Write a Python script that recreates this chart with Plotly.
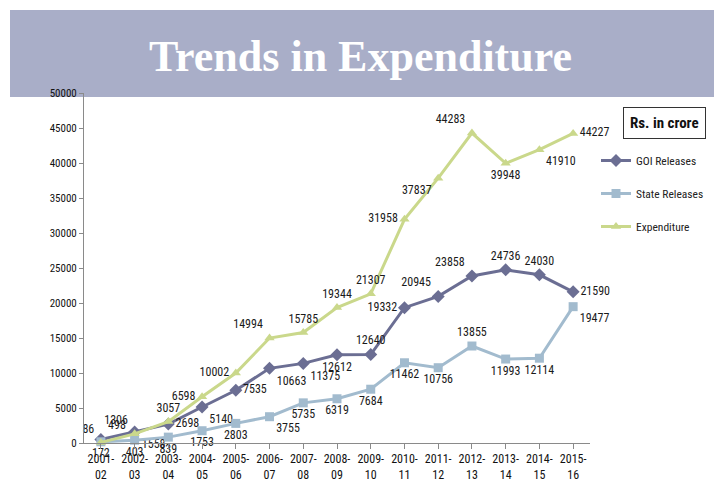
import plotly.graph_objects as go

categories = ["2001-<br>02", "2002-<br>03", "2003-<br>04", "2004-<br>05", "2005-<br>06",
              "2006-<br>07", "2007-<br>08", "2008-<br>09", "2009-<br>10", "2010-<br>11",
              "2011-<br>12", "2012-<br>13", "2013-<br>14", "2014-<br>15", "2015-<br>16"]
goi_releases = [498, 1558, 2698, 5140, 7535, 10663, 11375, 12612, 12640, 19332, 20945, 23858, 24736, 24030, 21590]
state_releases = [172, 403, 839, 1753, 2803, 3755, 5735, 6319, 7684, 11462, 10756, 13855, 11993, 12114, 19477]
expenditure = [86, 1306, 3057, 6598, 10002, 14994, 15785, 19344, 21307, 31958, 37837, 44283, 39948, 41910, 44227]
y_ticks = [0, 5000, 10000, 15000, 20000, 25000, 30000, 35000, 40000, 45000, 50000]

exp_pos = ["top left", "top left", "top center", "middle left", "middle left", "top left", "top center",
           "top center", "top center", "middle left", "bottom left", "top left", "bottom center",
           "bottom right", "middle right"]
goi_pos = ["top right", "bottom right", "middle right", "bottom right", "middle right", "bottom right",
           "bottom right", "bottom center", "top center", "middle left", "top left", "top left",
           "top center", "top center", "middle right"]
state_pos = ["bottom center"] * 5 + ["bottom right", "bottom center", "bottom center", "bottom center",
             "bottom center", "bottom center", "top center", "bottom center", "bottom center", "bottom right"]

FONT = "Liberation Sans Narrow, Roboto Condensed, Arial Narrow, sans-serif"
GOI_C = "#6b6e93"
STATE_C = "#a2bbce"
EXP_C = "#cad88b"

fig = go.Figure()
x = list(range(len(categories)))
fig.add_trace(go.Scatter(x=x, y=goi_releases, name="GOI Releases", mode="lines+markers+text",
                         line=dict(color=GOI_C, width=3), marker=dict(symbol="diamond", size=10, color=GOI_C),
                         text=[str(v) for v in goi_releases], textposition=goi_pos,
                         textfont=dict(family=FONT, size=12, color="#1a1a1a"),
                         legendgroup="a", cliponaxis=False))
fig.add_trace(go.Scatter(x=x, y=state_releases, name="State Releases", mode="lines+markers+text",
                         line=dict(color=STATE_C, width=3), marker=dict(symbol="square", size=9, color=STATE_C),
                         text=[str(v) for v in state_releases], textposition=state_pos,
                         textfont=dict(family=FONT, size=12, color="#1a1a1a"),
                         legendgroup="b", cliponaxis=False))
fig.add_trace(go.Scatter(x=x, y=expenditure, name="Expenditure", mode="lines+markers+text",
                         line=dict(color=EXP_C, width=3), marker=dict(symbol="triangle-up", size=9, color=EXP_C),
                         text=[str(v) for v in expenditure], textposition=exp_pos,
                         textfont=dict(family=FONT, size=12, color="#1a1a1a"),
                         legendgroup="c", cliponaxis=False))

L, R, T, B = 84, 124, 93, 45
W, H = 714, 488
pw, ph = W - L - R, H - T - B

def px(xp):
    return (xp - L) / pw

def py(yp):
    return (H - B - yp) / ph

fig.update_layout(
    width=W, height=H,
    margin=dict(l=L, r=R, t=T, b=B, autoexpand=False),
    paper_bgcolor="white", plot_bgcolor="white",
    font=dict(family=FONT, size=11, color="#222"),
    showlegend=True,
    legend=dict(x=px(596), y=py(146), xanchor="left", yanchor="top",
                font=dict(family=FONT, size=11.5, color="#222"),
                traceorder="grouped", tracegroupgap=14, itemwidth=30,
                bgcolor="rgba(0,0,0,0)"),
    xaxis=dict(tickmode="array", tickvals=x, ticktext=categories, range=[-0.5, len(categories) - 0.5],
               automargin=False,
               showgrid=False, zeroline=False, showline=True, linecolor="#8a8a8a", linewidth=1,
               ticks="outside", ticklen=5, tickcolor="#8a8a8a",
               tickfont=dict(family=FONT, size=12, color="#111")),
    yaxis=dict(range=[0, 50000], tickmode="array", tickvals=y_ticks, ticktext=[str(v) for v in y_ticks],
               automargin=False, showgrid=False, zeroline=False,
               showline=True, linecolor="#8a8a8a", linewidth=1, ticks="outside", ticklen=4,
               tickcolor="#8a8a8a", tickfont=dict(family=FONT, size=11, color="#111")),
    shapes=[dict(type="rect", xref="paper", yref="paper", x0=px(10), x1=px(714), y0=py(97), y1=py(10),
                 fillcolor="#a9aec8", line=dict(width=0), layer="below")],
    annotations=[
        dict(text="<b>Trends in Expenditure</b>", xref="paper", yref="paper", x=px(360), y=py(56),
             showarrow=False, xanchor="center", yanchor="middle",
             font=dict(family="Liberation Serif, Times New Roman, serif", size=44, color="white")),
        dict(text="<b>Rs. in crore</b>", xref="paper", yref="paper", x=px(664), y=py(123),
             showarrow=False, xanchor="center", yanchor="middle",
             bordercolor="#333", borderwidth=1, borderpad=6, bgcolor="white",
             font=dict(family=FONT, size=15, color="#111")),
    ],
)

fig.write_html("out.html")
